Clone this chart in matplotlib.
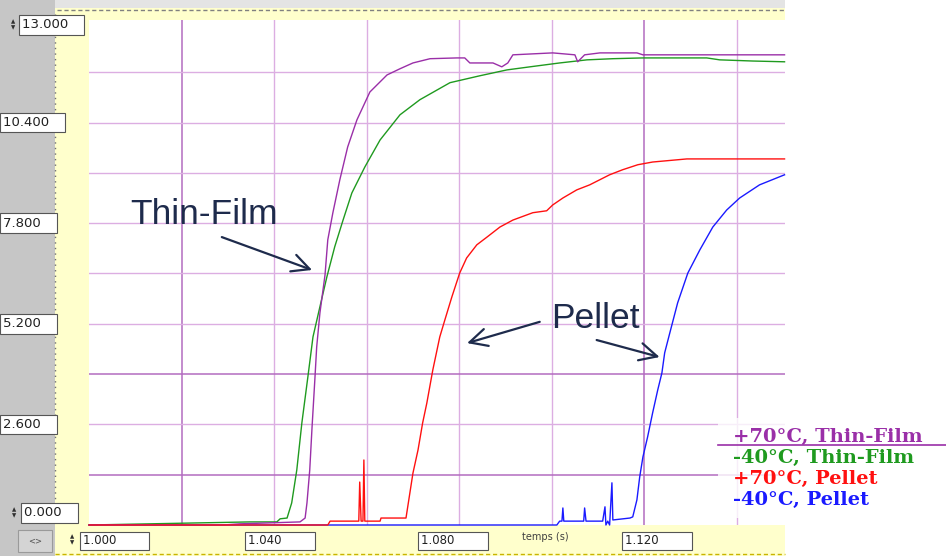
import matplotlib.pyplot as plt
import matplotlib.transforms as mtransforms
from matplotlib.patches import Rectangle
from matplotlib.lines import Line2D

# ---- data (temps in s, signal) ----
t_tf70 = [1.0, 1.0289, 1.0326, 1.0456, 1.0467, 1.0471, 1.0477, 1.0482, 1.0488, 1.0492,
          1.0499, 1.0510, 1.0516, 1.0527, 1.0542, 1.0559, 1.0579, 1.0607, 1.0644, 1.0672,
          1.0700, 1.0737, 1.0795, 1.0812, 1.0823, 1.0873, 1.0892, 1.0905, 1.0916, 1.1002,
          1.1050, 1.1056, 1.1071, 1.1104, 1.1184, 1.1197, 1.1503]
v_tf70 = [0.0, 0.0, 0.03, 0.08, 0.18, 0.57, 1.42, 2.53, 3.75, 4.60,
          5.48, 6.46, 7.37, 8.07, 8.92, 9.77, 10.47, 11.19, 11.63, 11.79,
          11.94, 12.05, 12.07, 12.07, 11.94, 11.94, 11.84, 11.94, 12.15, 12.20,
          12.15, 11.97, 12.15, 12.20, 12.20, 12.15, 12.15]

t_tf40 = [1.0, 1.0348, 1.0406, 1.0413, 1.0428, 1.0438, 1.0449, 1.0460, 1.0473, 1.0484,
          1.0499, 1.0514, 1.0531, 1.0549, 1.0568, 1.0596, 1.0629, 1.0672, 1.0715, 1.0780,
          1.0845, 1.0903, 1.0953, 1.1017, 1.1076, 1.1132, 1.1197, 1.1335, 1.1363, 1.1434,
          1.1503]
v_tf40 = [0.0, 0.08, 0.08, 0.16, 0.18, 0.57, 1.42, 2.64, 3.83, 4.86,
          5.64, 6.41, 7.19, 7.88, 8.58, 9.25, 9.95, 10.60, 10.99, 11.43,
          11.61, 11.76, 11.84, 11.94, 12.02, 12.05, 12.07, 12.07, 12.02, 11.99,
          11.97]

t_p70 = [1.0, 1.0516, 1.0521, 1.0583, 1.0585, 1.0588, 1.0592, 1.0594, 1.0596, 1.0629,
         1.0631, 1.0685, 1.0700, 1.0711, 1.0721, 1.0730, 1.0743, 1.0758, 1.0769, 1.0784,
         1.0801, 1.0816, 1.0838, 1.0860, 1.0888, 1.0916, 1.0959, 1.0989, 1.1002, 1.1024,
         1.1054, 1.1082, 1.1125, 1.1153, 1.1186, 1.1218, 1.1292, 1.1503]
v_p70 = [0.0, 0.0, 0.10, 0.10, 1.11, 0.10, 0.10, 1.68, 0.10, 0.10,
         0.18, 0.18, 1.34, 1.94, 2.64, 3.15, 4.01, 4.86, 5.30, 5.89,
         6.51, 6.90, 7.24, 7.44, 7.70, 7.88, 8.07, 8.12, 8.27, 8.45,
         8.66, 8.79, 9.05, 9.18, 9.31, 9.38, 9.46, 9.46]

t_p40 = [1.0, 1.1011, 1.1017, 1.1022, 1.1024, 1.1026, 1.1069, 1.1071, 1.1074, 1.1110,
         1.1115, 1.1117, 1.1121, 1.1125, 1.1130, 1.1132, 1.1169, 1.1175, 1.1184, 1.1190,
         1.1197, 1.1207, 1.1218, 1.1229, 1.1238, 1.1244, 1.1255, 1.1272, 1.1294, 1.1320,
         1.1348, 1.1378, 1.1406, 1.1449, 1.1503]
v_p40 = [0.0, 0.0, 0.10, 0.10, 0.44, 0.10, 0.10, 0.44, 0.10, 0.10,
         0.47, 0.0, 0.10, 0.0, 1.09, 0.13, 0.18, 0.21, 0.65, 1.24,
         1.76, 2.27, 2.90, 3.49, 3.93, 4.45, 4.96, 5.74, 6.51, 7.11,
         7.70, 8.14, 8.45, 8.79, 9.05]

y_ticks = [13.0, 10.4, 7.8, 5.2, 2.6, 0.0]
x_ticks = [1.000, 1.040, 1.080, 1.120]
legend_labels = ['+70\u00b0C, Thin-Film', '-40\u00b0C, Thin-Film', '+70\u00b0C, Pellet', '-40\u00b0C, Pellet']

c_purple = '#9a2fa8'
c_green = '#1f9a1f'
c_red = '#ff1010'
c_blue = '#1a1aff'
c_note = '#1e2b4c'

W, H = 946, 556


def fx(x):
    return x / W


def fy(y):
    return 1 - y / H


fig = plt.figure(figsize=(9.46, 5.56), dpi=100)
fig.patch.set_facecolor('white')

# window chrome: gray panel on the left, pale yellow frame round the plot
fig.patches.append(Rectangle((0, 0), fx(55), 1, transform=fig.transFigure,
                             facecolor='#c6c6c6', edgecolor='none', zorder=0))
fig.patches.append(Rectangle((fx(55), 0), fx(785 - 55), 1, transform=fig.transFigure,
                             facecolor='#ffffcc', edgecolor='none', zorder=0))
fig.patches.append(Rectangle((fx(55), fy(8)), fx(785 - 55), 8 / H, transform=fig.transFigure,
                             facecolor='#e4e4e4', edgecolor='none', zorder=0))
fig.add_artist(Line2D([fx(57), fx(785)], [fy(10), fy(10)], color='#808080', lw=1, ls=(0, (3, 2))))
fig.add_artist(Line2D([fx(55), fx(785)], [fy(554), fy(554)], color='#c8b400', lw=1, ls=(0, (3, 2))))
fig.add_artist(Line2D([fx(55), fx(55)], [fy(14), fy(525)], color='#707070', lw=1, ls=(0, (1, 3))))

# the '<>' button
fig.patches.append(Rectangle((fx(18), fy(552)), fx(34), 22 / H, transform=fig.transFigure,
                             facecolor='#d4d4d4', edgecolor='#9a9a9a', lw=0.8, zorder=1))
fig.text(fx(35), fy(541), '<>', ha='center', va='center', fontsize=6, color='#505050')

ax = fig.add_axes([fx(89), fy(525), fx(785 - 89), (525 - 20) / H])
ax.set_zorder(2)
ax.set_facecolor('white')
ax.set_xlim(1.0, 1.1504)
ax.set_ylim(0, 13.05)
for s in ax.spines.values():
    s.set_visible(False)
ax.set_xticks([])
ax.set_yticks([])

# grid: 0.02 s by 1.3 units, a couple of lines look darker in the screenshot
for i in range(1, 8):
    xv = 1.0 + 0.02 * i
    dark = i in (1, 6)
    ax.axvline(xv, color='#b36cc0' if dark else '#dcaee2', lw=1.1 if dark else 1.0, zorder=1)
for i in range(1, 10):
    yv = 1.3 * i
    dark = i in (1, 3)
    ax.axhline(yv, color='#b36cc0' if dark else '#dcaee2', lw=1.1 if dark else 1.0, zorder=1)

ax.plot(t_tf40, v_tf40, color=c_green, lw=1.0, zorder=3, clip_on=False)
ax.plot(t_tf70, v_tf70, color=c_purple, lw=1.0, zorder=4, clip_on=False)
ax.plot(t_p40, v_p40, color=c_blue, lw=1.0, zorder=3, clip_on=False)
ax.plot(t_p70, v_p70, color=c_red, lw=1.0, zorder=4, clip_on=False)

# annotations
ax.text(1.0089, 7.78, 'Thin-Film', fontsize=25.5, family='Liberation Sans', color=c_note,
        va='baseline', ha='left', zorder=6)
ax.text(1.0998, 5.09, 'Pellet', fontsize=25.5, family='Liberation Sans', color=c_note,
        va='baseline', ha='left', zorder=6)
arrow_kw = dict(arrowstyle='->,head_length=0.7,head_width=0.35', color=c_note, lw=1.6,
                shrinkA=0, shrinkB=0, mutation_scale=18)
ax.annotate('', xy=(1.0482, 6.59), xytext=(1.0287, 7.44), arrowprops=arrow_kw, zorder=6)
ax.annotate('', xy=(1.0817, 4.70), xytext=(1.0974, 5.25), arrowprops=arrow_kw, zorder=6)
ax.annotate('', xy=(1.1233, 4.34), xytext=(1.1097, 4.78), arrowprops=arrow_kw, zorder=6)

# y scale boxes (left panel)
ytr = mtransforms.blended_transform_factory(fig.transFigure, ax.transData)
box = dict(boxstyle='square,pad=0.25', facecolor='white', edgecolor='#555555', lw=0.8)
for yv in y_ticks:
    if yv == 13.0:
        xl, dy = 22, -3
    elif yv == 0.0:
        xl, dy = 24, 12
    else:
        xl, dy = 3, 0
    ax.annotate('%.3f   ' % yv, xy=(fx(xl), yv), xycoords=ytr, xytext=(0, dy),
                textcoords='offset pixels', ha='left', va='center', fontsize=9.5,
                color='#202020', bbox=box, annotation_clip=False, zorder=8)

# spinner arrows
for (sx, sy) in [(13, 25), (14, 513), (72, 540)]:
    fig.text(fx(sx), fy(sy - 3), '\u25b2', fontsize=4, ha='center', va='center', color='#303030')
    fig.text(fx(sx), fy(sy + 3), '\u25bc', fontsize=4, ha='center', va='center', color='#303030')

# x scale boxes (bottom band)
x_dx = {1.000: -6, 1.040: -26, 1.080: -38, 1.120: -19}
for xv in x_ticks:
    ax.annotate('%.3f        ' % xv, xy=(xv, 0), xycoords=('data', 'axes fraction'),
                xytext=(x_dx[xv], -16), textcoords='offset pixels', ha='left', va='center',
                fontsize=8.5, color='#202020', bbox=box, annotation_clip=False, zorder=8)
ax.annotate('temps (s)', xy=(1.1, 0), xycoords=('data', 'axes fraction'), xytext=(-30, -12),
            textcoords='offset pixels', ha='left', va='center', fontsize=7, color='#404040',
            annotation_clip=False)

# legend block at bottom right
fig.patches.append(Rectangle((fx(718), fy(518)), fx(946 - 718), (518 - 418) / H,
                             transform=fig.transFigure, facecolor='white', edgecolor='none',
                             alpha=0.8, zorder=5))
fig.add_artist(Line2D([fx(718), fx(946)], [fy(445), fy(445)], color=c_purple, lw=1.2, zorder=6))
for lbl, col, base in zip(legend_labels, [c_purple, c_green, c_red, c_blue], [442, 463, 484, 505]):
    fig.text(fx(733), fy(base), lbl, color=col, fontsize=14, family='DejaVu Serif',
             weight='bold', va='baseline', ha='left', zorder=7)

fig.savefig('out.png', dpi=100)
